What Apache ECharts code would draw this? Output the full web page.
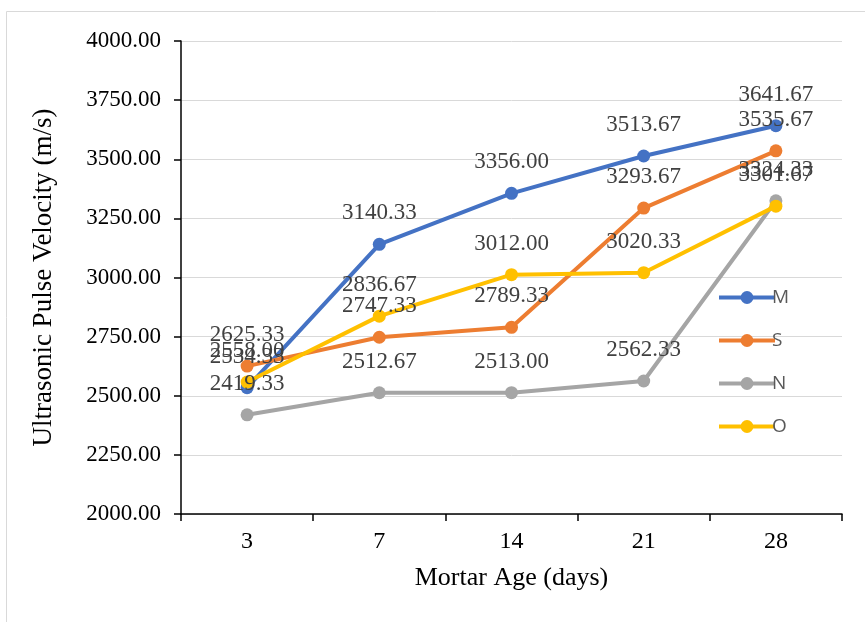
<!DOCTYPE html>
<html><head><meta charset="utf-8">
<script src="https://cdn.jsdelivr.net/npm/echarts@6/dist/echarts.min.js"></script>
<style>html,body{margin:0;padding:0;background:#fff}#c{width:865px;height:622px}</style>
</head><body><div id="c"></div>
<script>
const categories = ['3', '7', '14', '21', '28'];
const seriesM = [2534.33, 3140.33, 3356.00, 3513.67, 3641.67];
const seriesS = [2625.33, 2747.33, 2789.33, 3293.67, 3535.67];
const seriesN = [2419.33, 2512.67, 2513.00, 2562.33, 3324.33];
const seriesO = [2558.00, 2836.67, 3012.00, 3020.33, 3301.67];
const names = ['M', 'S', 'N', 'O'];
const colors = ['#4472C4', '#ED7D31', '#A5A5A5', '#FFC000'];
const allData = [seriesM, seriesS, seriesN, seriesO];

const chart = echarts.init(document.getElementById('c'));
const serif = '"Liberation Serif", "Times New Roman", serif';
chart.setOption({
  animation: false,
  graphic: [{
    type: 'polyline', shape: { points: [[6.5, 700], [6.5, 11.5], [900, 11.5]] },
    style: { fill: 'none', stroke: '#d9d9d9', lineWidth: 1 }, z: -1
  }],
  grid: { left: 181, right: 23, top: 41, bottom: 108 },
  legend: {
    orient: 'vertical', left: 712, top: 283, itemGap: 24,
    itemWidth: 56, itemHeight: 16,
    lineStyle: { width: 4 },
    textStyle: { fontFamily: '"Open Sans", "Liberation Sans", sans-serif', fontSize: 19, color: '#595959', padding: [0, 0, 0, -8] },
    data: names
  },
  xAxis: {
    type: 'category', data: categories, boundaryGap: true,
    name: 'Mortar Age (days)', nameLocation: 'middle', nameGap: 51,
    nameTextStyle: { fontFamily: serif, fontSize: 26, color: '#000' },
    axisLine: { lineStyle: { color: '#000', width: 1.5 } },
    axisTick: { show: true, length: 7, lineStyle: { color: '#000', width: 1.5 } },
    axisLabel: { fontFamily: serif, fontSize: 24, color: '#000', margin: 16 }
  },
  yAxis: {
    type: 'value', min: 2000, max: 4000, interval: 250,
    name: 'Ultrasonic Pulse Velocity (m/s)', nameLocation: 'middle', nameGap: 124,
    nameTextStyle: { fontFamily: serif, fontSize: 27, color: '#000' },
    axisLine: { show: true, lineStyle: { color: '#000', width: 1.5 } },
    axisTick: { show: true, length: 7, lineStyle: { color: '#000', width: 1.5 } },
    axisLabel: { fontFamily: serif, fontSize: 23, color: '#000', margin: 20, formatter: v => v.toFixed(2) },
    splitLine: { lineStyle: { color: '#d9d9d9', width: 1 } }
  },
  series: allData.map((d, i) => ({
    name: names[i], type: 'line', data: d,
    symbol: 'circle', symbolSize: 13,
    lineStyle: { width: 4, color: colors[i] },
    itemStyle: { color: colors[i] },
    label: {
      show: true, position: 'top', distance: 13,
      fontFamily: serif, fontSize: 23, color: '#404040',
      formatter: p => p.value.toFixed(2)
    }
  }))
});
</script></body></html>
